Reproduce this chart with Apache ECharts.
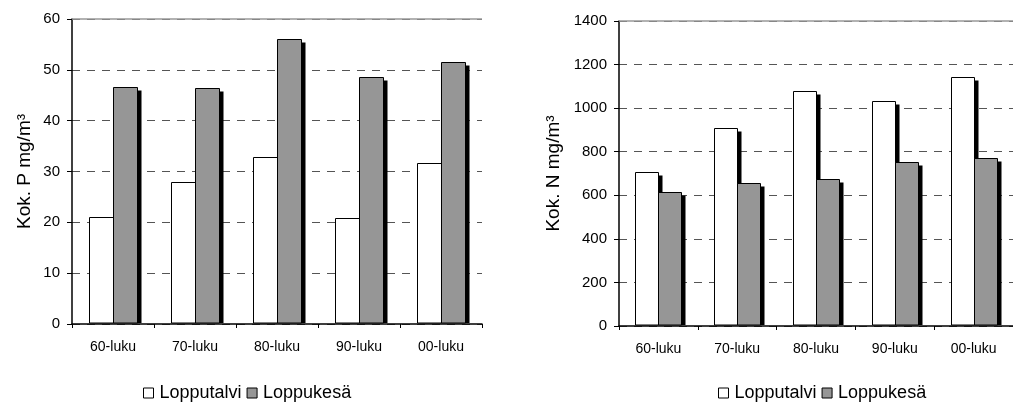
<!DOCTYPE html>
<html>
<head>
<meta charset="utf-8">
<script src="https://cdn.jsdelivr.net/npm/echarts@6/dist/echarts.min.js"></script>
<style>
html,body{margin:0;padding:0;background:#fff;}
#c{width:1013px;height:405px;}
</style>
</head>
<body>
<div id="c"></div>
<script>
const categories = ['60-luku', '70-luku', '80-luku', '90-luku', '00-luku'];
const seriesNames = ['Lopputalvi', 'Loppukesä'];
const pWinter = [21.0, 27.9, 32.8, 20.8, 31.7];
const pSummer = [46.7, 46.4, 56.1, 48.6, 51.5];
const nWinter = [707, 910, 1080, 1034, 1144];
const nSummer = [616, 656, 673, 753, 773];
const pAxis = { min: 0, max: 60, interval: 10, name: 'Kok. P mg/m³' };
const nAxis = { min: 0, max: 1400, interval: 200, name: 'Kok. N mg/m³' };

const FONT = 'Liberation Sans, Arial, sans-serif';
const WHITE = '#ffffff';
const GREY = '#969696';

function makeRender(side, fill) {
  return function (params, api) {
    const idx = api.value(0);
    const v = api.value(1);
    const top = api.coord([idx, v]);
    const base = api.coord([idx, 0]);
    const band = api.size([1, 0])[0];
    const bw = Math.round(band * 0.293);
    const x = Math.round(top[0] + side * bw) + 0.5;
    const y = Math.round(top[1]) + 0.5;
    const b = Math.round(base[1]) - 1;
    return {
      type: 'group',
      children: [
        { type: 'rect', shape: { x: x + 4, y: y + 3, width: bw, height: b - y - 3 }, style: { fill: '#000' } },
        { type: 'rect', shape: { x: x, y: y, width: bw, height: b - y }, style: { fill: fill, stroke: '#000', lineWidth: 1 } }
      ]
    };
  };
}

function yAxisCfg(ax, gridIndex, nameGap) {
  return {
    type: 'value', gridIndex: gridIndex, min: ax.min, max: ax.max, interval: ax.interval,
    name: ax.name, nameLocation: 'middle', nameGap: nameGap,
    nameTextStyle: { fontFamily: FONT, fontSize: 19, color: '#000' },
    axisLine: { show: true, lineStyle: { color: '#000', width: 1.5 } },
    axisTick: { show: true, length: 5, lineStyle: { color: '#000', width: 1 } },
    axisLabel: { fontFamily: FONT, fontSize: 15, color: '#000', margin: 12, formatter: (v) => String(v) },
    splitLine: { show: true, lineStyle: { color: '#555', width: 1, type: [8, 7] } }
  };
}
function xAxisCfg(gridIndex, margin) {
  return {
    type: 'category', gridIndex: gridIndex, data: categories,
    axisLine: { show: true, lineStyle: { color: '#000', width: 1.5 } },
    axisTick: { show: true, length: 4, lineStyle: { color: '#000', width: 1 } },
    axisLabel: { fontFamily: FONT, fontSize: 14, color: '#000', margin: margin },
    splitLine: { show: false }
  };
}
function seriesCfg(name, data, xi, side, fill, topVal) {
  const s = {
    type: 'custom', name: name, xAxisIndex: xi, yAxisIndex: xi,
    data: data.map((v, i) => [i, v]),
    renderItem: makeRender(side, fill),
    itemStyle: { color: fill, borderColor: '#000', borderWidth: 1 },
    encode: { x: 0, y: 1 },
    silent: true
  };
  if (topVal !== undefined) {
    s.markLine = {
      silent: true, symbol: 'none', label: { show: false },
      lineStyle: { color: '#999', type: 'solid', width: 1.5 },
      data: [{ yAxis: topVal }]
    };
  }
  return s;
}
function legendCfg(left) {
  return {
    left: left, top: 384, padding: 0, itemGap: 5, itemWidth: 10, itemHeight: 10,
    icon: 'rect', selectedMode: false,
    textStyle: { fontFamily: FONT, fontSize: 18, color: '#000', padding: [0, 0, 0, 1] },
    data: [
      { name: seriesNames[0], itemStyle: { color: WHITE, borderColor: '#000', borderWidth: 1 } },
      { name: seriesNames[1], itemStyle: { color: GREY, borderColor: '#000', borderWidth: 1 } }
    ]
  };
}

const chart = echarts.init(document.getElementById('c'), null, { renderer: 'canvas' });
chart.setOption({
  animation: false,
  backgroundColor: '#fff',
  grid: [
    { left: 72, top: 19, width: 410, height: 305, containLabel: false },
    { left: 619, top: 21, width: 404, height: 305, containLabel: false }
  ],
  xAxis: [xAxisCfg(0, 16), xAxisCfg(1, 16)],
  yAxis: [yAxisCfg(pAxis, 0, 38), yAxisCfg(nAxis, 1, 56)],
  legend: [legendCfg(143), legendCfg(718)],
  series: [
    seriesCfg(seriesNames[0], pWinter, 0, -1, WHITE),
    seriesCfg(seriesNames[1], pSummer, 0, 0, GREY, pAxis.max),
    seriesCfg(seriesNames[0], nWinter, 1, -1, WHITE),
    seriesCfg(seriesNames[1], nSummer, 1, 0, GREY, nAxis.max)
  ]
});
</script>
</body>
</html>
